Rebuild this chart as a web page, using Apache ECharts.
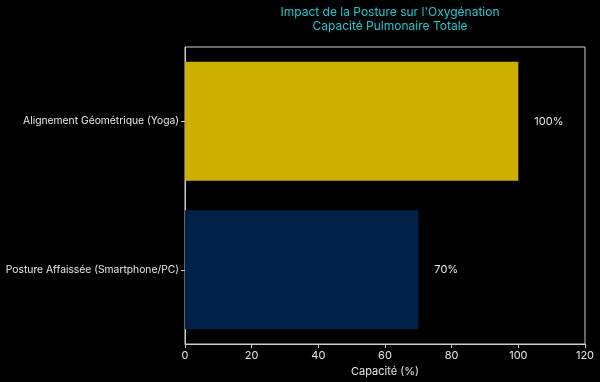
<!DOCTYPE html>
<html><head><meta charset="utf-8">
<script src="https://cdn.jsdelivr.net/npm/echarts@6/dist/echarts.min.js"></script>
<style>html,body{margin:0;padding:0;background:#000;}#c{width:600px;height:382px;}</style>
</head><body><div id="c"></div>
<script>
const categories = ["Posture Affaissée (Smartphone/PC)", "Alignement Géométrique (Yoga)"];
const values = [70, 100];
const barColors = ["#002147", "#CDAF00"];
const xTicks = [0, 20, 40, 60, 80, 100, 120];
const titleText = "Impact de la Posture sur l'Oxygénation\nCapacité Pulmonaire Totale";
const xName = "Capacité (%)";

const font = "Inter";
const chart = echarts.init(document.getElementById('c'), null, {renderer: 'canvas'});
chart.setOption({
  backgroundColor: '#000',
  animation: false,
  title: {
    text: titleText,
    left: 385, top: 1, textAlign: 'center',
    textStyle: {color: '#22c8d0', fontFamily: font, fontWeight: 'normal', fontSize: 12, lineHeight: 13.5}
  },
  grid: {left: 185, right: 15, top: 47, bottom: 37, show: true, borderColor: '#cccccc', borderWidth: 1},
  xAxis: {
    type: 'value', min: xTicks[0], max: xTicks[xTicks.length-1], interval: 20,
    name: xName, nameLocation: 'middle', nameGap: 22,
    nameTextStyle: {color: '#e6e6e6', fontFamily: font, fontSize: 11},
    axisLine: {show: true, lineStyle: {color: '#cccccc'}},
    axisTick: {show: true, length: 4, lineStyle: {color: '#cccccc'}},
    axisLabel: {color: '#e6e6e6', fontFamily: font, fontSize: 11, margin: 6},
    splitLine: {show: false}
  },
  yAxis: {
    type: 'category', data: categories,
    axisLine: {show: true, lineStyle: {color: '#cccccc'}},
    axisTick: {show: true, length: 4, alignWithLabel: true, lineStyle: {color: '#cccccc'}},
    axisLabel: {color: '#e6e6e6', fontFamily: font, fontSize: 10.3, margin: 6}
  },
  series: [{
    type: 'bar', barCategoryGap: '20%',
    data: values.map((v, i) => ({value: v, itemStyle: {color: barColors[i]}})),
    label: {show: true, position: 'right', distance: 16, color: '#e6e6e6', fontFamily: font, fontSize: 11,
      formatter: p => p.value + '%'}
  }]
});
</script></body></html>
